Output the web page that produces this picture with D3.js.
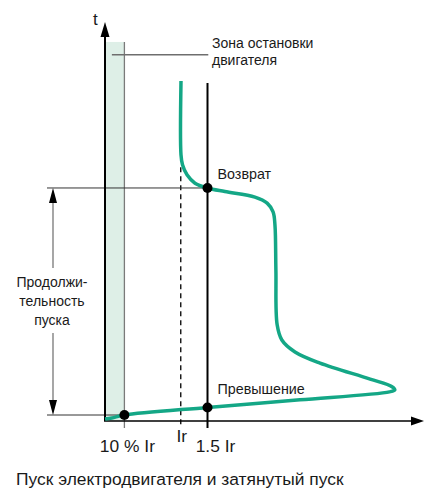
<!DOCTYPE html>
<html>
<head>
<meta charset="utf-8">
<script src="https://cdn.jsdelivr.net/npm/d3@7"></script>
<style>
  body { margin: 0; background: #fff; }
  text { font-family: "Liberation Sans", Arial, sans-serif; fill: #1a1a1a; }
</style>
</head>
<body>
<div id="chart"></div>
<script>
// schematic units: x = current, y = time (both 0..100)
const tickLabels = ["10 % Ir", "Ir", "1.5 Ir"];
const tickValues = [6.2, 24.2, 32.75];

const curveX = [24.28, 24.28, 24.76, 26.2, 28.75, 32.75, 38.3, 47.9, 51.8, 53.7, 54.3, 54.6, 55.0,
  56.5, 60.7, 68.7, 84.7, 91.7, 92.6, 90.9, 62.3, 32.75, 6.2, 2.2, 0];
const curveY = [85.2, 66.7, 64.2, 61.7, 59.6, 58.4, 57.5, 56.1, 54.6, 52.4, 49.1, 37.8, 24.1,
  20.3, 17.3, 14.5, 10.5, 8.6, 7.8, 7.3, 5.3, 3.4, 1.5, 0.75, 0.5];

const markerX = [32.75, 32.75, 6.2];
const markerY = [58.4, 3.4, 1.5];
const markerLabels = ["Возврат", "Превышение", ""];

const zoneTop = 95;       // top of the motor-stop zone
const limitTop = 84.7;    // top of 1.5 Ir line
const irTop = 63.6;       // top of dashed Ir line
const startLabel = ["Продолжи-", "тельность", "пуска"];
const zoneLabel = ["Зона остановки", "двигателя"];
const title = "Пуск электродвигателя и затянутый пуск";

(function () {
  const width = 426, height = 488;
  const green = "#14a786";

  const svg = d3.select("#chart").append("svg")
    .attr("width", width).attr("height", height);

  const x = d3.scaleLinear().domain([0, 100]).range([105, 418]);
  const y = d3.scaleLinear().domain([0, 100]).range([421, 22]);

  // stop zone
  svg.append("rect")
    .attr("x", x(0)).attr("y", y(zoneTop))
    .attr("width", x(tickValues[0]) - x(0)).attr("height", y(0) - y(zoneTop))
    .attr("fill", "#deefe7");
  svg.append("line")
    .attr("x1", x(tickValues[0])).attr("x2", x(tickValues[0]))
    .attr("y1", y(zoneTop)).attr("y2", y(0) + 7)
    .attr("stroke", "#7a7a7a").attr("stroke-width", 1.3);
  svg.append("line")
    .attr("x1", x(2.2)).attr("x2", x(33))
    .attr("y1", y(91.8)).attr("y2", y(91.8))
    .attr("stroke", "#6e6e6e").attr("stroke-width", 1.5);
  svg.append("text").selectAll("tspan").data(zoneLabel).join("tspan")
    .attr("x", 212).attr("y", (d, i) => 48 + i * 17)
    .style("font-size", "14px").text(d => d);

  // Ir dashed line and 1.5 Ir line
  svg.append("line")
    .attr("x1", x(tickValues[1])).attr("x2", x(tickValues[1]))
    .attr("y1", y(irTop)).attr("y2", y(0) + 7)
    .attr("stroke", "#111").attr("stroke-width", 1.4)
    .attr("stroke-dasharray", "5,4");
  svg.append("line")
    .attr("x1", x(tickValues[2])).attr("x2", x(tickValues[2]))
    .attr("y1", y(limitTop)).attr("y2", y(0) + 7)
    .attr("stroke", "#000").attr("stroke-width", 2);

  // duration reference lines
  svg.append("line")
    .attr("x1", 47).attr("x2", x(markerX[0]))
    .attr("y1", y(markerY[0])).attr("y2", y(markerY[0]))
    .attr("stroke", "#333").attr("stroke-width", 1);
  svg.append("line")
    .attr("x1", 47).attr("x2", x(markerX[2]))
    .attr("y1", y(markerY[2])).attr("y2", y(markerY[2]))
    .attr("stroke", "#333").attr("stroke-width", 1);

  // double arrow with label
  const ax = 53;
  svg.append("line").attr("x1", ax).attr("x2", ax)
    .attr("y1", y(markerY[0]) + 12).attr("y2", 268)
    .attr("stroke", "#777").attr("stroke-width", 1.3);
  svg.append("line").attr("x1", ax).attr("x2", ax)
    .attr("y1", 333).attr("y2", y(markerY[2]) - 12)
    .attr("stroke", "#777").attr("stroke-width", 1.3);
  const t0 = y(markerY[0]), t1 = y(markerY[2]);
  svg.append("path")
    .attr("d", `M${ax},${t0} L${ax - 4},${t0 + 15} L${ax + 4},${t0 + 15} Z`)
    .attr("fill", "#000");
  svg.append("path")
    .attr("d", `M${ax},${t1} L${ax - 4},${t1 - 15} L${ax + 4},${t1 - 15} Z`)
    .attr("fill", "#000");
  svg.append("text").attr("text-anchor", "middle")
    .selectAll("tspan").data(startLabel).join("tspan")
    .attr("x", 52).attr("y", (d, i) => 287 + i * 19)
    .style("font-size", "14px").text(d => d);

  // axes
  svg.append("line").attr("x1", x(0)).attr("x2", x(0))
    .attr("y1", y(0)).attr("y2", y(100) + 12)
    .attr("stroke", "#000").attr("stroke-width", 2);
  svg.append("path")
    .attr("d", `M${x(0)},${y(100)} L${x(0) - 4.5},${y(100) + 15} L${x(0) + 4.5},${y(100) + 15} Z`)
    .attr("fill", "#000");
  svg.append("line").attr("x1", x(0) - 1).attr("x2", 414)
    .attr("y1", y(0)).attr("y2", y(0))
    .attr("stroke", "#000").attr("stroke-width", 1.5);
  svg.append("path")
    .attr("d", `M424,${y(0)} L411,${y(0) - 4.5} L411,${y(0) + 4.5} Z`)
    .attr("fill", "#000");
  svg.append("text").attr("x", 93).attr("y", 25)
    .style("font-size", "17px").text("t");

  // tick labels
  svg.selectAll("text.tick")
    .data(tickLabels)
    .join("text")
      .attr("class", "tick")
      .attr("x", (d, i) => x(tickValues[i]) + (i === 0 ? 3 : i === 2 ? 8 : 1))
      .attr("y", (d, i) => i === 1 ? 442 : 452)
      .attr("text-anchor", "middle")
      .style("font-size", "17.4px")
      .text(d => d);

  // curve
  const pts = curveX.map((v, i) => [v, curveY[i]]);
  svg.append("path")
    .datum(pts)
    .attr("d", d3.line().x(d => x(d[0])).y(d => y(d[1])).curve(d3.curveCatmullRom.alpha(0.5)))
    .attr("fill", "none")
    .attr("stroke", green)
    .attr("stroke-width", 3.5)
    .attr("stroke-linejoin", "round");

  // markers
  svg.selectAll("circle.mark")
    .data(markerX)
    .join("circle")
      .attr("class", "mark")
      .attr("cx", d => x(d))
      .attr("cy", (d, i) => y(markerY[i]))
      .attr("r", 5)
      .attr("fill", "#000");
  svg.selectAll("text.mlabel")
    .data(markerLabels)
    .join("text")
      .attr("class", "mlabel")
      .attr("x", (d, i) => x(markerX[i]) + 10)
      .attr("y", (d, i) => y(markerY[i]) - (i === 0 ? 9 : 13))
      .style("font-size", "14.3px")
      .text(d => d);

  svg.append("text").attr("x", 16).attr("y", 485)
    .style("font-size", "17.4px").text(title);
})();
</script>
</body>
</html>
